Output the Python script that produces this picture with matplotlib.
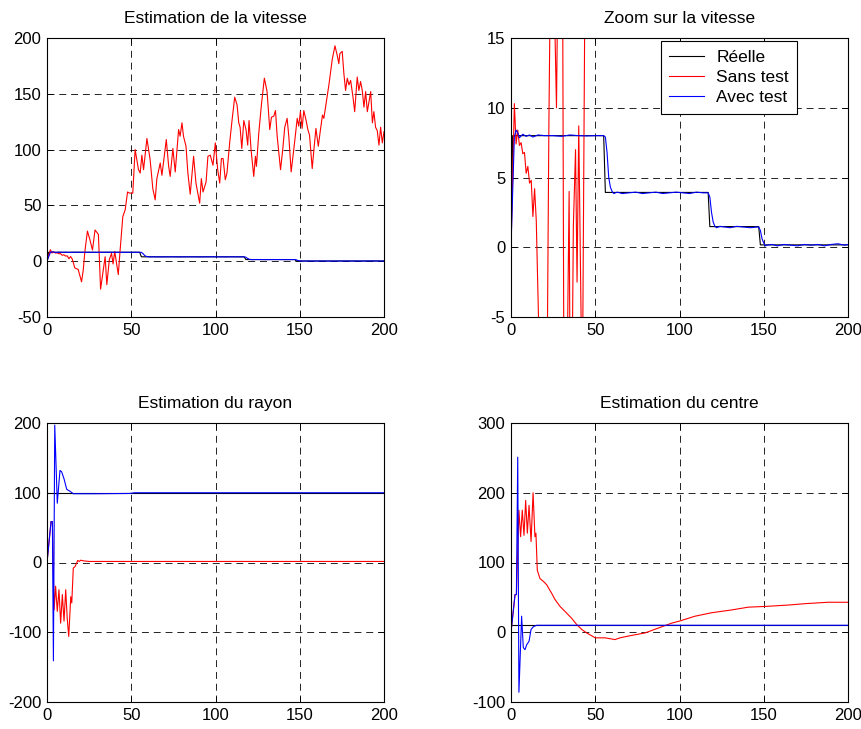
import numpy as np
import matplotlib
matplotlib.use("Agg")
import matplotlib.pyplot as plt

plt.rcParams['font.family'] = ['Liberation Sans', 'DejaVu Sans']
plt.rcParams['font.size'] = 12
plt.rcParams['lines.scale_dashes'] = False
plt.rcParams['axes.unicode_minus'] = False

# vitesse reelle (paliers)
reelle_v = [(0, 0), (1, 8), (55, 8), (56, 3.93), (117, 3.93), (118, 1.48),
            (147, 1.48), (148, 0.17), (200, 0.17)]

# vitesse estimee sans test
sans_v = [(0, 0), (2, 10.3), (3, 7.4), (4, 8.4), (5, 7.3), (6, 7.5), (7, 6.7), (8, 6.8),
          (9, 5.3), (10, 5.8), (11, 4.6), (12, 4.8), (13, 2.2), (14, 4.2), (15, 1.9),
          (16.5, -6), (18.5, -7.4), (19.5, -13), (20.5, -18.5), (21.5, -8), (22.5, 9),
          (24, 27), (25.5, 19), (27, 10), (28.5, 28), (30.5, 24), (31.8, -25), (33.5, -7),
          (34.5, 4), (35.5, -21), (37, 1.5), (38.3, 7), (39.2, -2.5), (40.2, 8.7),
          (42.3, -12), (43.4, 10), (45, 40), (46.4, 46), (47.8, 62), (49, 61), (50.9, 61),
          (52.3, 100), (54.3, 82), (55.3, 79), (56.3, 95), (57.3, 82), (59.3, 110),
          (61.2, 91), (62.8, 65), (64.2, 55), (65.2, 74), (67.2, 88), (68.2, 77),
          (70.8, 109), (72.2, 85), (73.1, 76), (74.7, 101), (76.1, 80), (78.1, 118),
          (79, 112), (80.1, 124), (81, 112), (82.5, 103), (83.6, 79), (85, 60), (87, 94),
          (88.4, 70), (90.6, 52), (91.6, 74), (92.6, 62), (94.4, 71), (95.5, 94),
          (96.9, 95), (98.5, 86), (99.9, 106), (101.3, 82), (102.5, 70), (103.5, 92),
          (104.5, 92), (105.8, 73), (106.8, 79), (108.4, 106), (109.8, 126), (111.4, 147),
          (112.8, 140), (113.8, 124), (114.6, 120), (115.6, 101), (116.8, 126),
          (118.1, 118), (119.1, 104), (119.9, 126), (121.1, 100), (122.7, 76), (123.7, 94),
          (124.3, 85), (125.7, 115), (127.3, 141), (129, 164), (130.6, 152), (132.2, 118),
          (133.2, 129), (134.6, 130), (135.6, 135), (136.6, 112), (138.6, 82), (139.9, 100),
          (141.1, 120), (142.5, 128), (143.5, 112), (144.9, 80), (146.9, 106), (148.5, 128),
          (149.4, 121), (150.4, 134), (151.4, 119), (152.4, 135), (153.8, 126),
          (154.8, 118), (155.8, 113), (157.4, 83), (158.4, 100), (159.6, 119), (161, 103),
          (162.3, 118), (163.5, 131), (164.3, 128), (165.9, 144), (167.3, 158),
          (169.3, 181), (170.9, 193), (172.3, 184), (173.2, 177), (173.8, 186),
          (175.2, 188), (176.2, 168), (177.2, 153), (178.2, 164), (179.2, 158),
          (180.2, 162), (181.6, 147), (182.6, 134), (184.1, 165), (185.1, 153),
          (186.1, 161), (187.1, 153), (188.1, 138), (189.1, 152), (190.1, 134),
          (191.1, 143), (192.1, 152), (193.1, 124), (194, 134), (195, 120), (196, 117),
          (197, 104), (198, 120), (199, 106), (200, 116)]

# vitesse estimee avec test
avec_v = [(0, 0), (1, 4.0), (2, 7.9), (3, 8.4), (4, 8.2), (5, 7.85), (7, 8.1), (9, 7.95),
          (11, 8.05), (13, 7.9), (16, 8.05), (20, 8.0), (25, 8.0), (30, 7.95), (35, 8.05),
          (40, 8.0), (45, 7.98), (50, 8.0), (55, 8.0), (56, 7.9), (57, 6.8), (58, 5.0),
          (59, 4.3), (60, 4.0), (61, 3.85), (63, 3.95), (66, 3.85), (70, 3.9), (74, 3.95),
          (78, 3.85), (82, 3.9), (86, 3.95), (90, 3.85), (94, 3.9), (98, 3.95), (102, 3.9),
          (106, 3.85), (110, 3.95), (114, 3.9), (117, 3.9), (118, 3.6), (119, 2.5),
          (120, 1.8), (121, 1.5), (122, 1.4), (124, 1.5), (127, 1.45), (130, 1.4),
          (134, 1.5), (138, 1.45), (142, 1.4), (146, 1.45), (147, 1.45), (148, 1.2),
          (149, 0.6), (150, 0.3), (151, 0.1), (152, 0.15), (155, 0.2), (158, 0.1),
          (162, 0.2), (166, 0.15), (170, 0.1), (174, 0.2), (178, 0.15), (182, 0.2),
          (186, 0.1), (190, 0.2), (194, 0.25), (198, 0.15), (200, 0.2)]

# rayon
reelle_r = [(0, 100), (200, 100)]
sans_r = [(0, 0), (2.4, 58.6), (3.2, 58.6), (4.2, -68), (5.1, -34), (6.1, -70), (7.1, -39),
          (8.1, -87), (9.1, -46), (10.1, -84), (11.1, -39), (12, -80), (12.9, -106),
          (14.1, -49), (14.7, -58), (15.6, -8), (16.6, -6), (17.6, -1), (18.2, 3),
          (19.2, 1.5), (20, 3.3), (21.6, 2.4), (25, 1.5), (200, 1.5)]
avec_r = [(0, 0), (2.4, 58.6), (3.2, 58.6), (3.8, -141), (4.6, 197), (6.1, 85),
          (7.7, 132), (8.7, 130), (10.1, 120), (11.7, 105), (13.7, 102), (15.6, 98.6),
          (30, 98.6), (49, 99), (52, 100), (200, 100)]

# centre
reelle_c = [(0, 10), (200, 10)]
sans_c = [(0, 0), (2.4, 54), (3.2, 54), (4.7, 175), (5.7, 137), (6.7, 175), (7.7, 139),
          (8.7, 189), (9.7, 142), (10.7, 182), (11.9, 130), (13.1, 200), (14.2, 137),
          (14.8, 142), (15.6, 89), (17.2, 77), (19.2, 73), (21.2, 68), (24.1, 56),
          (26.1, 47), (29.1, 37), (32, 30), (36, 20), (39, 11), (42, 4), (44.9, -1),
          (47.9, -5), (49.9, -8), (55.8, -8), (61.7, -10.5), (64.7, -8), (70.6, -5),
          (79.5, -1), (87.4, 6), (95.3, 13), (100, 16), (109.2, 23), (119.1, 28),
          (131, 32), (140.9, 36), (150.7, 37), (164.6, 39), (174.5, 41), (188.3, 43),
          (200, 43)]
avec_c = [(0, 0), (2.4, 54), (3.2, 54), (4, 251), (4.7, -86), (6.3, 23), (7.3, -22),
          (8.3, -25), (9.3, -18), (10.7, -13), (11.9, 4), (13.3, 8), (15.2, 10), (200, 10)]

titres = ["Estimation de la vitesse", "Zoom sur la vitesse",
          "Estimation du rayon", "Estimation du centre"]
limites = [(-50, 200), (-5, 15), (-200, 200), (-100, 300)]
pas_y = [50, 5, 100, 100]
legende = ["Réelle", "Sans test", "Avec test"]


def trace(ax, reelle, sans, avec):
    for data, col in [(reelle, 'k'), (sans, 'r'), (avec, 'b')]:
        d = np.array(data, dtype=float)
        ax.plot(d[:, 0], d[:, 1], color=col, lw=0.8)


fig = plt.figure(figsize=(8.62, 7.29), dpi=100)
W, H = 862, 729
positions = [(47, 38), (511, 38), (47, 423), (511, 423)]
axes = []
for (px, py) in positions:
    ax = fig.add_axes([px / W, 1 - (py + 279) / H, 337 / W, 279 / H])
    axes.append(ax)

trace(axes[0], reelle_v, sans_v, avec_v)
trace(axes[1], reelle_v, sans_v, avec_v)
trace(axes[2], reelle_r, sans_r, avec_r)
trace(axes[3], reelle_c, sans_c, avec_c)

for ax, titre, lim, pas in zip(axes, titres, limites, pas_y):
    ax.set_xlim(0, 200)
    ax.set_ylim(*lim)
    ax.set_xticks(np.arange(0, 201, 50))
    ax.set_yticks(np.arange(lim[0], lim[1] + 1, pas))
    ax.grid(True, color='k', lw=0.6, linestyle=(0, (5, 3.5)))
    ax.tick_params(direction='in', length=4, width=0.6, top=True, right=True,
                   labelsize=12, pad=4)
    for s in ax.spines.values():
        s.set_linewidth(0.8)
    ax.set_title(titre, fontsize=12.5, pad=11)

leg = axes[1].legend(legende, loc='upper right', bbox_to_anchor=(0.85, 0.989),
                     borderaxespad=0, fancybox=False, framealpha=1, edgecolor='k',
                     fontsize=12.5, handlelength=2.0, handletextpad=0.7,
                     borderpad=0.5, labelspacing=0.28)
leg.get_frame().set_linewidth(0.8)

fig.savefig("out.png", dpi=100)
